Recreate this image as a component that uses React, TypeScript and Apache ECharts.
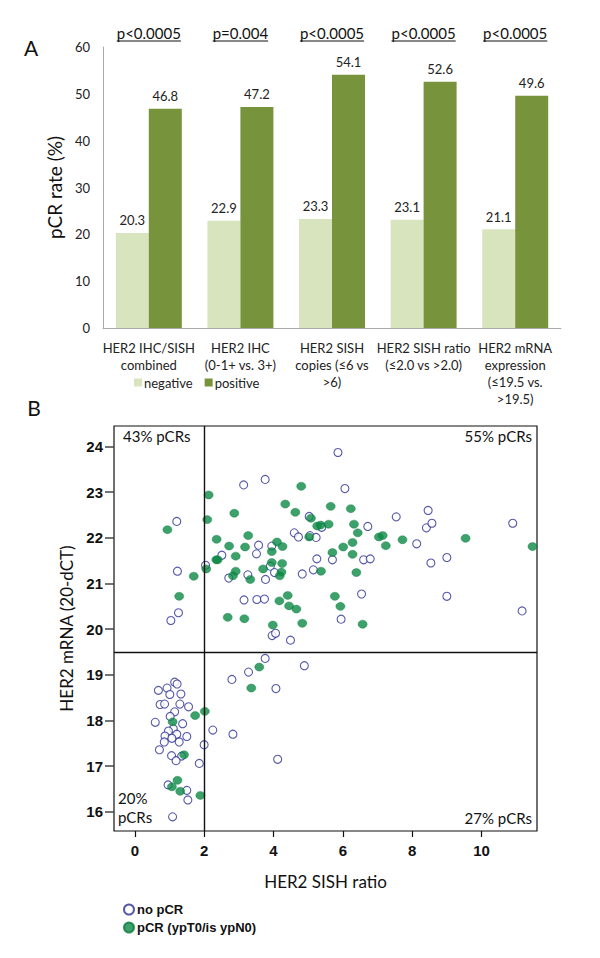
import React, { useEffect, useRef } from "react";
import * as echarts from "echarts";

// ---------- Panel A data ----------
const categories = [
  "HER2 IHC/SISH\ncombined",
  "HER2 IHC\n(0-1+ vs. 3+)",
  "HER2 SISH\ncopies (≤6 vs\n>6)",
  "HER2 SISH ratio\n(≤2.0 vs >2.0)",
  "HER2 mRNA\nexpression\n(≤19.5 vs.\n>19.5)",
];
const negativeRates = [20.3, 22.9, 23.3, 23.1, 21.1];
const positiveRates = [46.8, 47.2, 54.1, 52.6, 49.6];
const pValues = ["p<0.0005", "p=0.004", "p<0.0005", "p<0.0005", "p<0.0005"];

// ---------- Panel B data: [HER2 SISH ratio, HER2 mRNA] ----------
const noPCR: number[][] = [
  [1.21, 22.36], [1.23, 21.27], [1.26, 20.36], [1.04, 20.19], [2.04, 21.4],
  [3.14, 23.16], [3.76, 23.28], [5.86, 23.87], [6.06, 23.08], [5.03, 22.47],
  [5.39, 22.23], [6.72, 22.25], [7.54, 22.46], [8.46, 22.6], [8.41, 22.22],
  [8.57, 22.32], [4.6, 22.11], [4.72, 22.02], [5.05, 22.05], [5.23, 22.01],
  [3.57, 21.84], [3.95, 21.82], [8.13, 21.87], [10.9, 22.32], [2.51, 21.62],
  [3.51, 21.65], [5.25, 21.54], [5.7, 21.52], [6.6, 21.52], [6.79, 21.54],
  [9.0, 21.57], [8.54, 21.45], [2.71, 21.12], [3.91, 21.38], [4.03, 21.24],
  [3.26, 21.19], [3.77, 21.09], [4.83, 21.21], [5.15, 21.3], [3.15, 20.64],
  [3.52, 20.65], [3.74, 20.66], [6.54, 20.77], [9.0, 20.72], [11.17, 20.4],
  [3.96, 19.86], [4.06, 19.91], [5.95, 20.22], [4.49, 19.76],
  [3.76, 19.36], [3.28, 19.06], [2.8, 18.9], [4.89, 19.2], [4.07, 18.7],
  [4.12, 17.15], [2.25, 17.79], [2.83, 17.7],
  [0.68, 18.66], [0.93, 18.71], [1.15, 18.84], [1.22, 18.8], [1.01, 18.57],
  [1.33, 18.58], [0.73, 18.35], [0.86, 18.36], [1.3, 18.36], [1.55, 18.3],
  [1.15, 18.19], [1.02, 18.09], [0.59, 17.96], [1.38, 17.93], [1.11, 17.82],
  [0.97, 17.77], [1.21, 17.7], [0.87, 17.66], [1.07, 17.61], [1.5, 17.65],
  [1.28, 17.53], [0.85, 17.53], [2.0, 17.47], [0.71, 17.36], [1.06, 17.23],
  [1.35, 17.22], [1.19, 17.12], [1.86, 17.06], [0.96, 16.59], [1.5, 16.47],
  [1.53, 16.26], [1.09, 15.89],
];
const withPCR: number[][] = [
  [0.94, 22.18], [1.7, 21.16], [1.28, 20.72], [2.06, 21.32],
  [2.13, 22.94], [2.09, 22.4], [4.8, 23.13], [4.34, 22.74], [4.63, 22.56],
  [2.87, 22.54], [5.65, 22.69], [6.23, 22.64], [5.08, 22.43], [5.26, 22.26],
  [5.36, 22.28], [5.59, 22.3], [6.32, 22.3], [6.43, 22.11], [5.03, 22.02],
  [4.1, 21.91], [6.28, 21.9], [7.04, 22.02], [7.15, 22.05], [7.72, 21.96],
  [3.27, 22.05], [2.36, 21.97], [2.72, 21.82], [3.18, 21.8], [4.26, 21.81],
  [9.54, 21.99], [11.47, 21.81], [7.24, 21.83], [6.01, 21.8], [2.91, 21.6],
  [3.95, 21.7], [2.35, 21.52], [2.39, 21.52], [5.7, 21.68], [6.28, 21.64],
  [2.91, 21.27], [2.83, 21.17], [3.7, 21.32], [3.95, 21.46], [4.25, 21.44],
  [4.23, 21.25], [4.18, 21.17], [3.33, 21.09], [5.37, 21.27], [6.39, 21.24],
  [4.17, 20.62], [4.41, 20.74], [4.45, 20.51], [4.66, 20.44], [5.77, 20.72],
  [5.93, 20.5], [2.68, 20.26], [3.16, 20.23], [3.98, 20.09], [4.83, 20.13],
  [6.57, 20.11],
  [3.59, 19.17], [3.36, 18.71], [2.02, 18.2],
  [1.74, 18.11], [1.09, 17.97], [1.42, 17.25], [1.23, 16.69], [1.07, 16.55],
  [1.31, 16.45], [1.89, 16.36],
];
const sishTicks = [0, 2, 4, 6, 8, 10];
const mrnaTicks = [16, 17, 18, 19, 20, 21, 22, 23, 24];
const sishCutoff = 2;
const mrnaCutoff = 19.5;
const quadrantLabels = ["43% pCRs", "55% pCRs", "20%\npCRs", "27% pCRs"];

// ---------- layout ----------
const GA = { left: 103, top: 47, width: 458, height: 281 };
const GB = { left: 114, top: 426, width: 423, height: 405 };
const FONT = "Lato, 'Open Sans', sans-serif";
const BOLD = "'Liberation Sans', Arial, sans-serif";

function measure(text: string, font: string): number {
  const c = document.createElement("canvas").getContext("2d");
  if (!c) return text.length * 7;
  c.font = font;
  return c.measureText(text).width;
}

export default function App() {
  const ref = useRef<HTMLDivElement>(null);
  useEffect(() => {
    if (!ref.current) return;
    const chart = echarts.init(ref.current, null, { renderer: "svg" });
    const catW = GA.width / categories.length;
    const graphics: any[] = [];
    pValues.forEach((p, i) => {
      const cx = GA.left + (i + 0.5) * catW;
      const w = measure(p, "15px Lato");
      graphics.push({
        type: "text",
        x: cx,
        y: 33,
        style: { text: p, fill: "#111", font: `15px ${FONT}`, align: "center", verticalAlign: "middle" },
      });
      graphics.push({
        type: "line",
        shape: { x1: cx - w / 2, y1: 41, x2: cx + w / 2, y2: 41 },
        style: { stroke: "#111", lineWidth: 1 },
      });
    });
    graphics.push(
      { type: "text", x: 31, y: 47, style: { text: "A", fill: "#111", font: `21px ${FONT}`, align: "center", verticalAlign: "middle" } },
      { type: "text", x: 34, y: 407, style: { text: "B", fill: "#111", font: `21px ${FONT}`, align: "center", verticalAlign: "middle" } },
      { type: "text", x: GB.left + 9, y: GB.top + 10, style: { text: quadrantLabels[0], fill: "#111", font: `15px ${FONT}`, align: "left", verticalAlign: "middle" } },
      { type: "text", x: GB.left + GB.width - 5, y: GB.top + 10, style: { text: quadrantLabels[1], fill: "#111", font: `15px ${FONT}`, align: "right", verticalAlign: "middle" } },
      { type: "text", x: GB.left + 4, y: GB.top + GB.height - 24, style: { text: quadrantLabels[2], fill: "#111", font: `15px ${FONT}`, lineHeight: 19, align: "left", verticalAlign: "middle" } },
      { type: "text", x: GB.left + GB.width - 5, y: GB.top + GB.height - 13, style: { text: quadrantLabels[3], fill: "#111", font: `15px ${FONT}`, align: "right", verticalAlign: "middle" } }
    );

    chart.setOption({
      animation: false,
      backgroundColor: "#fff",
      grid: [
        { ...GA, containLabel: false },
        { ...GB, containLabel: false, show: true, borderColor: "#111", borderWidth: 1.2, backgroundColor: "transparent" },
      ],
      legend: [
        {
          data: ["negative", "positive"],
          left: 129,
          top: 371,
          orient: "horizontal",
          icon: "rect",
          itemWidth: 8,
          itemHeight: 8,
          itemGap: 12,
          textStyle: { fontFamily: FONT, fontSize: 13, color: "#222", padding: [0, 0, 0, -3] },
        },
        {
          data: ["no pCR", "pCR (ypT0/is ypN0)"],
          left: 118,
          top: 898,
          orient: "vertical",
          itemWidth: 10,
          itemHeight: 10,
          itemGap: 5,
          textStyle: { fontFamily: BOLD, fontWeight: "bold", fontSize: 13, color: "#111", padding: [0, 0, 0, -2] },
        },
      ],
      xAxis: [
        {
          type: "category",
          gridIndex: 0,
          data: categories,
          axisLine: { lineStyle: { color: "#aaa", width: 1 } },
          axisTick: { show: false },
          axisLabel: { interval: 0, fontFamily: FONT, fontSize: 13, lineHeight: 17, color: "#222", margin: 11 },
        },
        {
          type: "value",
          gridIndex: 1,
          min: -0.6,
          max: 11.6,
          splitLine: { show: false },
          axisLine: { show: false, onZero: false },
          axisTick: { show: true, customValues: sishTicks, length: 6, inside: false, lineStyle: { color: "#111", width: 1.2 } },
          axisLabel: { customValues: sishTicks, fontFamily: BOLD, fontWeight: "bold", fontSize: 15, color: "#111", margin: 12 },
          name: "HER2 SISH ratio",
          nameLocation: "middle",
          nameGap: 42,
          nameTextStyle: { fontFamily: FONT, fontSize: 17, color: "#111" },
        },
      ],
      yAxis: [
        {
          type: "value",
          gridIndex: 0,
          min: 0,
          max: 60,
          interval: 10,
          splitLine: { show: false },
          axisLine: { show: true, lineStyle: { color: "#aaa", width: 1 } },
          axisTick: { show: false },
          axisLabel: { fontFamily: FONT, fontSize: 13, color: "#222", margin: 13 },
          name: "pCR rate (%)",
          nameLocation: "middle",
          nameGap: 33,
          nameTextStyle: { fontFamily: FONT, fontSize: 19, color: "#111" },
        },
        {
          type: "value",
          gridIndex: 1,
          min: 15.58,
          max: 24.45,
          splitLine: { show: false },
          axisLine: { show: false, onZero: false },
          axisTick: { show: true, customValues: mrnaTicks, length: 9, inside: false, lineStyle: { color: "#444", width: 1.5 } },
          axisLabel: { customValues: mrnaTicks, fontFamily: BOLD, fontWeight: "bold", fontSize: 15, color: "#111", margin: 11 },
          name: "HER2 mRNA (20-dCT)",
          nameLocation: "middle",
          nameGap: 36,
          nameTextStyle: { fontFamily: FONT, fontSize: 17, color: "#111" },
        },
      ],
      series: [
        {
          name: "negative",
          type: "bar",
          xAxisIndex: 0,
          yAxisIndex: 0,
          data: negativeRates,
          barWidth: 33,
          barGap: "0%",
          itemStyle: { color: "#d7e4bd" },
          label: { show: true, position: "top", distance: 6, fontFamily: FONT, fontSize: 13, color: "#222" },
        },
        {
          name: "positive",
          type: "bar",
          xAxisIndex: 0,
          yAxisIndex: 0,
          data: positiveRates,
          barWidth: 33,
          barGap: "0%",
          itemStyle: { color: "#77933c" },
          label: { show: true, position: "top", distance: 6, fontFamily: FONT, fontSize: 13, color: "#222" },
        },
        {
          name: "no pCR",
          type: "scatter",
          xAxisIndex: 1,
          yAxisIndex: 1,
          data: noPCR,
          symbol: "circle",
          symbolSize: 8,
          itemStyle: { color: "#ffffff", borderColor: "#2b2f94", borderWidth: 1.1 },
          markLine: {
            silent: true,
            symbol: "none",
            label: { show: false },
            lineStyle: { color: "#111", width: 1.4, type: "solid" },
            data: [{ xAxis: sishCutoff }, { yAxis: mrnaCutoff }],
          },
        },
        {
          name: "pCR (ypT0/is ypN0)",
          type: "scatter",
          xAxisIndex: 1,
          yAxisIndex: 1,
          data: withPCR,
          symbol: "circle",
          symbolSize: [9, 8],
          itemStyle: { color: "#0b8a45", borderColor: "#0a7a3c", borderWidth: 0.5 },
        },
      ],
      graphic: graphics,
    });
    return () => chart.dispose();
  }, []);
  return <div ref={ref} style={{ position: "fixed", left: 0, top: 0, width: 600, height: 958, background: "#fff" }} />;
}
